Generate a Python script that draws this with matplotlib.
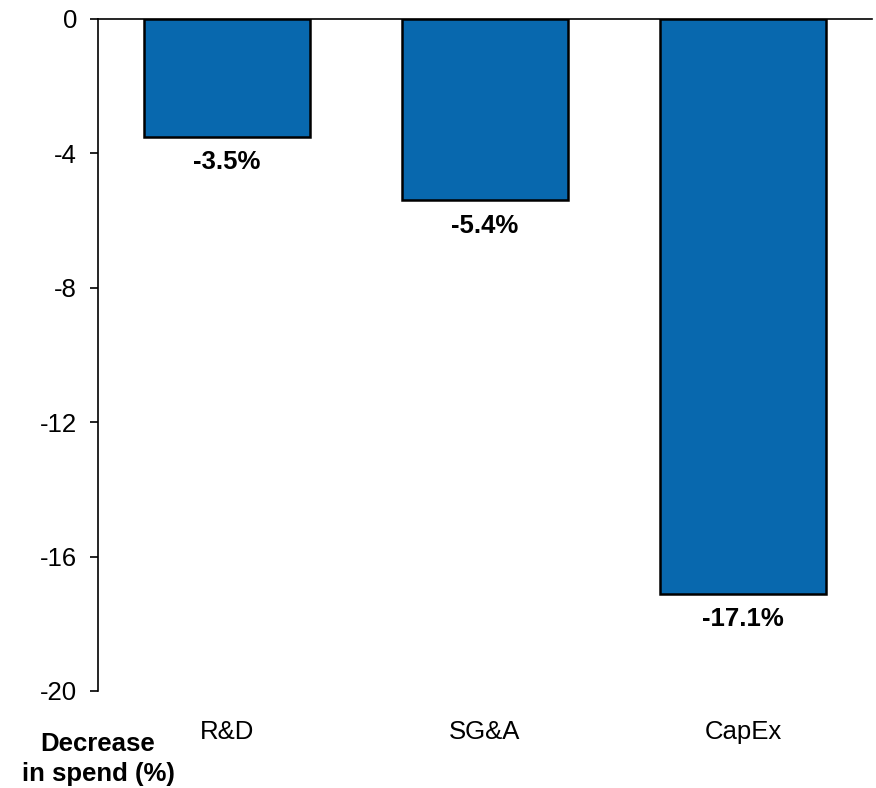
import matplotlib.pyplot as plt

plt.rcParams['font.family'] = ['Liberation Sans', 'DejaVu Sans']

categories = ["R&D", "SG&A", "CapEx"]
values = [-3.5, -5.4, -17.1]
yticks = [0, -4, -8, -12, -16, -20]

fig = plt.figure(figsize=(8.76, 7.88), dpi=100)
ax = fig.add_axes([0.1119, 0.1231, 0.8835, 0.8528])

x = range(len(categories))
bars = ax.bar(x, values, width=0.643, color="#0868AE", edgecolor="black", linewidth=1.8)

for b, v in zip(bars, values):
    ax.annotate(f"{v:.1f}%", (b.get_x() + b.get_width() / 2, v),
                xytext=(0, -9.5), textcoords="offset points",
                ha="center", va="top", fontsize=18.5, fontweight="bold")

ax.set_xlim(-0.5, 2.5)
ax.set_ylim(-20, 0)
ax.set_yticks(yticks)
ax.set_yticklabels([str(t) for t in yticks], fontsize=18.5)
ax.set_xticks(list(x))
ax.set_xticklabels(categories, fontsize=18.5)
ax.tick_params(axis="x", length=0, pad=21)
ax.tick_params(axis="y", length=6, width=1.2, pad=9)

for s in ["right", "bottom"]:
    ax.spines[s].set_visible(False)
ax.spines["left"].set_linewidth(1.2)
ax.spines["top"].set_linewidth(1.2)

fig.text(98 / 876, 1 - 759 / 788, "Decrease\nin spend (%)", ha="center", va="center",
         fontsize=18.5, fontweight="bold", linespacing=1.28)

fig.savefig("out.png", dpi=100)
